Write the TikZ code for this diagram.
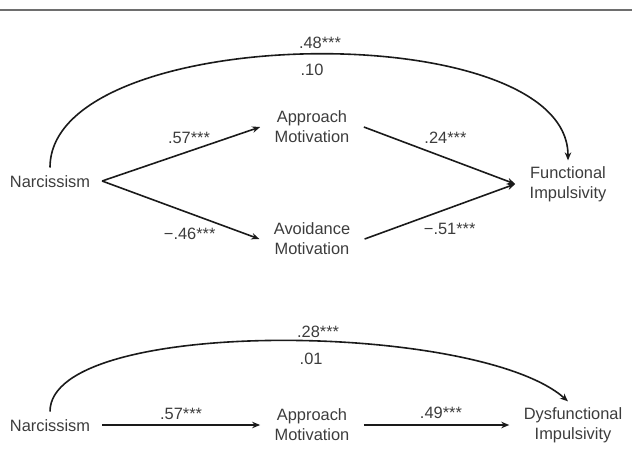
\documentclass[tikz,border=0pt]{standalone}
\usepackage{fontspec}
\setmainfont{Liberation Sans}
\usetikzlibrary{arrows.meta}
\definecolor{ruleGray}{HTML}{6E6E6E}
\definecolor{inkBlack}{HTML}{1A1A1A}
\newcommand{\sig}{***}

\begin{document}
\begin{tikzpicture}[x=1pt, y=-1pt,
        var/.style={font=\fontsize{16.4}{20}\selectfont, text=inkBlack!85, align=center, inner xsep=14.5pt, inner ysep=6pt, outer sep=0pt},
        source/.style={var, text height=12pt, text depth=0pt, inner xsep=12pt, inner ysep=7.5pt},
        coef/.style={font=\fontsize{16.4}{20}\selectfont, text=inkBlack!85, inner sep=2pt, text height=12pt, text depth=0pt},
        arrow/.style={-{Stealth[length=8pt, width=6.5pt]}, line width=1.6pt, color=inkBlack}]

    \useasboundingbox (0,0) rectangle (632,467);
    \draw[ruleGray, line width=1.8pt] (0,10) -- (632,10);

    % Top model: functional impulsivity
    \node[source] (narcA) at (50,181) {Narcissism};
    \node[var] (appA) at (312,127) {Approach\\Motivation};
    \node[var] (avoA) at (312,239) {Avoidance\\Motivation};
    \node[var] (funcA) at (568,184) {Functional\\Impulsivity};

    \draw[arrow] (narcA.east) -- node[coef, pos=0.55, above=5pt] {.57\sig} (appA.west);
    \draw[arrow] (narcA.east) -- node[coef, pos=0.557, below=11pt] {−.46\sig} (avoA.west);
    \draw[arrow] (appA.east) -- node[coef, pos=0.539, above=11.5pt] {.24\sig} (funcA.west);
    \draw[arrow] (avoA.east) -- node[coef, pos=0.565, below=11.5pt] {−.51\sig} (funcA.west);
    \draw[arrow] (narcA.north) .. controls +(0,-146) and +(0,-146) .. (funcA.north)
        node[coef, pos=0.5, above=3.4pt, xshift=11pt] {.48\sig}
        node[coef, pos=0.5, below=6.6pt, xshift=3pt] {.10};

    % Bottom model: dysfunctional impulsivity
    \node[source] (narcB) at (50,425) {Narcissism};
    \node[var] (appB) at (312,425) {Approach\\Motivation};
    \node[var] (dysB) at (573,425) {Dysfunctional\\Impulsivity};

    \draw[arrow] (narcB.east) -- node[coef, midway, above=3pt] {.57\sig} (appB.west);
    \draw[arrow] (appB.east) -- node[coef, pos=0.53, above=4pt] {.49\sig} (dysB.west);
    \draw[arrow] (narcB.north) .. controls +(0,-95) and +(-90,-80) .. ([xshift=-5pt]dysB.north)
        node[coef, pos=0.56, above=1pt] {.28\sig}
        node[coef, pos=0.56, below=8pt, xshift=-7pt] {.01};
\end{tikzpicture}
\end{document}
